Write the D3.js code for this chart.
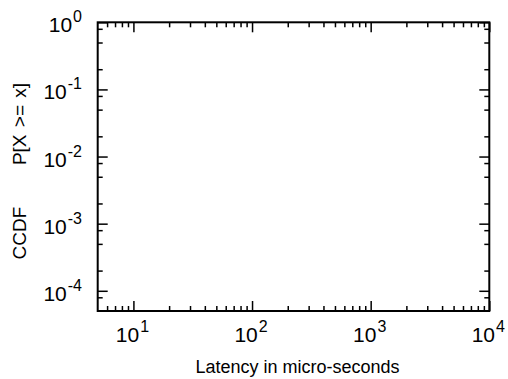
<!DOCTYPE html>
<html>
<head>
<meta charset="utf-8">
<script src="https://cdn.jsdelivr.net/npm/d3@7"></script>
<style>
  html, body { margin: 0; padding: 0; background: #fff; }
  svg { display: block; }
  text { font-family: "Liberation Sans", Arial, Helvetica, sans-serif; fill: #000; }
</style>
</head>
<body>
<svg id="chart" width="508" height="379"></svg>
<script>
// Axis ranges (log-log CCDF plot of latency)
const xDomain = [5, 10000];
const yDomain = [5e-5, 1];

// Major ticks and their decade exponents
const xMajorTicks = [10, 100, 1000, 10000];
const xMajorExponents = ["1", "2", "3", "4"];
const yMajorTicks = [1, 0.1, 0.01, 0.001, 0.0001];
const yMajorExponents = ["0", "-1", "-2", "-3", "-4"];

// Minor tick multipliers within each decade
const xMinorMultipliers = [2, 3, 4, 5, 6, 7, 8, 9];
const yMinorMultipliers = [2, 5, 8];

// Axis titles
const xTitle = "Latency in micro-seconds";
const yTitleLeft = "CCDF";
const yTitleRight = "P[X >= x]";

const W = 508, H = 379;
const margin = { left: 97.7, right: W - 489.3, top: 22.3, bottom: H - 311 };
const svg = d3.select("#chart");

const x = d3.scaleLog().domain(xDomain).range([margin.left, W - margin.right]);
const y = d3.scaleLog().domain(yDomain).range([H - margin.bottom, margin.top]);

function minorTicks(domain, mults) {
  const out = [];
  const lo = Math.floor(Math.log10(domain[0])), hi = Math.ceil(Math.log10(domain[1]));
  for (let e = lo; e <= hi; e++) {
    mults.forEach(m => {
      const v = m * Math.pow(10, e);
      if (v > domain[0] * 1.0001 && v < domain[1] * 0.9999) out.push(v);
    });
  }
  return out;
}
const xMinor = minorTicks(xDomain, xMinorMultipliers);
const yMinor = minorTicks(yDomain, yMinorMultipliers);

const plotLeft = x.range()[0], plotRight = x.range()[1];
const plotTop = y.range()[1], plotBottom = y.range()[0];

function tickLayer(axis, transform) {
  const g = svg.append("g").attr("transform", transform).call(axis);
  g.select(".domain").remove();
  g.selectAll(".tick line").attr("stroke", "#000").attr("stroke-width", 1.5);
  g.selectAll(".tick text").remove();
  return g;
}

const majorLen = 10, minorLen = 5;
// Bottom and top (mirrored, inward-facing)
tickLayer(d3.axisTop(x).tickValues(xMajorTicks).tickSize(majorLen), `translate(0,${plotBottom})`);
tickLayer(d3.axisTop(x).tickValues(xMinor).tickSize(minorLen), `translate(0,${plotBottom})`);
tickLayer(d3.axisBottom(x).tickValues(xMajorTicks).tickSize(majorLen), `translate(0,${plotTop})`);
tickLayer(d3.axisBottom(x).tickValues(xMinor).tickSize(minorLen), `translate(0,${plotTop})`);
// Left and right (mirrored, inward-facing)
tickLayer(d3.axisRight(y).tickValues(yMajorTicks).tickSize(majorLen), `translate(${plotLeft},0)`);
tickLayer(d3.axisRight(y).tickValues(yMinor).tickSize(minorLen), `translate(${plotLeft},0)`);
tickLayer(d3.axisLeft(y).tickValues(yMajorTicks).tickSize(majorLen), `translate(${plotRight},0)`);
tickLayer(d3.axisLeft(y).tickValues(yMinor).tickSize(minorLen), `translate(${plotRight},0)`);

// Plot frame
svg.append("rect")
  .attr("x", plotLeft).attr("y", plotTop)
  .attr("width", plotRight - plotLeft).attr("height", plotBottom - plotTop)
  .attr("fill", "none").attr("stroke", "#000").attr("stroke-width", 2);

// Power-of-ten tick labels: "10" with a raised exponent
const baseSize = 21, expSize = 16, expRaise = 10;

const xLab = svg.append("g");
xMajorTicks.forEach((v, i) => {
  const t = xLab.append("text")
    .attr("x", x(v) - 1).attr("y", plotBottom + 31)
    .attr("text-anchor", "middle")
    .style("font-size", baseSize + "px");
  t.append("tspan").text("10");
  t.append("tspan").attr("dy", -expRaise).attr("dx", 1)
    .style("font-size", expSize + "px").text(xMajorExponents[i]);
});

const yLab = svg.append("g");
yMajorTicks.forEach((v, i) => {
  const t = yLab.append("text")
    .attr("x", 82).attr("y", y(v) + 10)
    .attr("text-anchor", "end")
    .style("font-size", baseSize + "px");
  t.append("tspan").text("10");
  t.append("tspan").attr("dy", -expRaise).attr("dx", 1)
    .style("font-size", expSize + "px").text(yMajorExponents[i]);
});

// Axis titles
svg.append("text")
  .attr("x", (plotLeft + plotRight) / 2 + 4).attr("y", 373)
  .attr("text-anchor", "middle")
  .style("font-size", "18px")
  .text(xTitle);

svg.append("text")
  .attr("transform", "translate(25.5,233) rotate(-90)")
  .attr("text-anchor", "middle")
  .style("font-size", "19px")
  .text(yTitleLeft);
svg.append("text")
  .attr("transform", "translate(25.5,124) rotate(-90)")
  .attr("text-anchor", "middle")
  .style("font-size", "19px")
  .style("word-spacing", "2px")
  .text(yTitleRight);
</script>
</body>
</html>
